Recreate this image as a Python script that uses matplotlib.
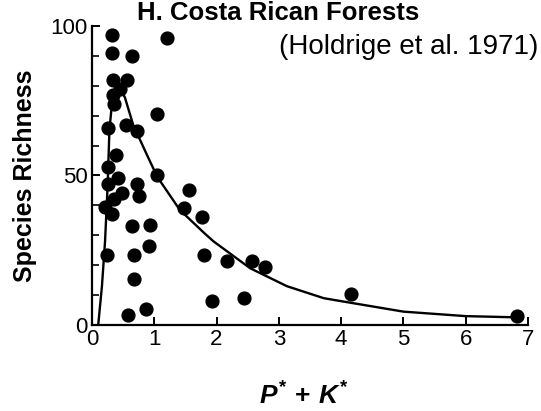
import numpy as np
import matplotlib
matplotlib.use("Agg")
import matplotlib.pyplot as plt

plt.rcParams['font.family'] = ['Liberation Sans', 'DejaVu Sans']
plt.rcParams['mathtext.fontset'] = 'custom'
plt.rcParams['mathtext.it'] = 'Liberation Sans:italic:bold'
plt.rcParams['mathtext.rm'] = 'Liberation Sans:bold'

# Messpunkte
pk = [0.32, 0.32, 0.64, 1.21, 0.34, 0.56, 0.45, 0.34, 0.36, 1.05,
      0.26, 0.54, 0.73, 0.39, 0.26, 1.05, 0.42, 0.25, 0.73, 0.76,
      0.48, 0.36, 0.21, 0.32, 1.55, 1.47, 1.77, 0.64, 0.93, 0.91,
      0.24, 0.68, 1.80, 0.68, 0.86, 0.58, 2.17, 2.57, 2.77, 1.92,
      2.44, 4.16, 6.82]
richness = [97, 91, 90, 96, 82, 82, 79, 77, 74, 70.5,
            66, 67, 65, 57, 53, 50, 49, 47, 47, 43,
            44, 42, 39.5, 37, 45, 39, 36, 33, 33.5, 26.5,
            23.5, 23.5, 23.5, 15.5, 5.5, 3.3, 21.5, 21.5, 19.5, 8,
            9, 10.5, 3]

# Kurve
curve_x = [0.10, 0.16, 0.21, 0.25, 0.28, 0.32, 0.37, 0.45, 0.53, 0.66,
           0.88, 1.05, 1.41, 1.79, 1.95, 2.54, 3.13, 3.72, 4.0, 5.0,
           6.0, 6.8]
curve_y = [0, 13, 28, 46, 65, 74, 78, 79.5, 76, 67,
           57, 49.5, 38.5, 31, 28, 19, 13, 9, 8, 4.5,
           3, 2.6]

fig = plt.figure(figsize=(5.41, 4.11), dpi=100)
ax = fig.add_axes([0.170, 0.209, 0.806, 0.728])

ax.plot(curve_x, curve_y, color='k', linewidth=1.7, zorder=2)
ax.scatter(pk, richness, s=85, color='k', zorder=3, clip_on=False)

ax.set_xlim(0, 7)
ax.set_ylim(0, 100)

ax.spines['top'].set_visible(False)
ax.spines['right'].set_visible(False)
ax.spines['left'].set_linewidth(1.6)
ax.spines['bottom'].set_linewidth(1.6)

ax.set_xticks(np.arange(0, 8, 1))
ax.set_yticks([0, 50, 100])
ax.set_yticks(np.arange(0, 101, 10), minor=True)
ax.tick_params(direction='in', length=6, width=1.4, labelsize=16, pad=3)
ax.tick_params(which='minor', direction='in', length=5, width=1.2)

ax.set_ylabel('Species Richness', fontsize=18, fontweight='bold', labelpad=10)
ax.set_xlabel(r'$P^{*}\,+\,K^{*}$', fontsize=19)
ax.xaxis.set_label_coords(0.485, -0.19)

fig.text(0.253, 0.94, 'H. Costa Rican Forests', fontsize=18.5,
         fontweight='bold', ha='left', va='bottom')
fig.text(0.995, 0.885, '(Holdrige et al. 1971)', fontsize=20,
         ha='right', va='center')

fig.savefig('out.png', dpi=100)
